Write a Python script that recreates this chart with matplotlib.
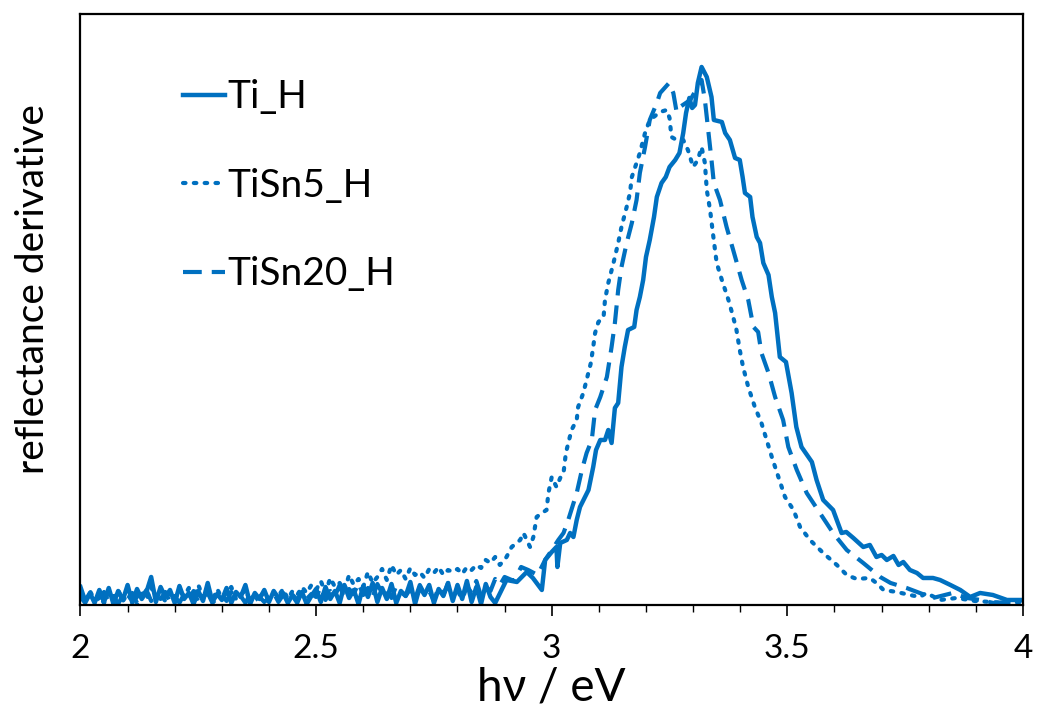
import numpy as np
import matplotlib
matplotlib.use("Agg")
import matplotlib.pyplot as plt
from matplotlib.ticker import MultipleLocator

plt.rcParams['font.family'] = ['Lato', 'DejaVu Sans']

# noisy baseline region, one value every 0.01 eV (heights in arbitrary units)
ti_noise_x = np.round(np.arange(2.00, 2.885, 0.01), 3)
ti_noise_y = [18, 4, 12, 2, 15, 3, 17, 1, 14, 5,
              20, 2, 16, 6, 13, 28, 3, 18, 8, 15,
              2, 19, 6, 12, 1, 14, 4, 22, 3, 11,
              5, 17, 2, 13, 8, 20, 1, 12, 6, 15,
              3, 14, 7, 12, 2, 10, 5, 13, 1, 9,
              16, 3, 18, 6, 14, 2, 20, 7, 15, 1,
              19, 8, 22, 3, 17, 6, 21, 2, 14, 9,
              23, 1, 18, 10, 20, 2, 16, 9, 22, 4,
              20, 6, 24, 3, 18, 1, 21, 8, 2]
# peak region read point by point
ti_peak_x = [2.904, 2.926, 2.947, 2.960, 2.979, 2.986, 3.000, 3.010, 3.012, 3.018,
             3.032, 3.039, 3.046, 3.053, 3.060, 3.078, 3.088, 3.094, 3.103, 3.113,
             3.120, 3.127, 3.134, 3.141, 3.148, 3.155, 3.162, 3.175, 3.180, 3.187,
             3.194, 3.200, 3.208, 3.217, 3.223, 3.233, 3.242, 3.250, 3.262, 3.271,
             3.279, 3.285, 3.292, 3.298, 3.304, 3.310, 3.318, 3.329, 3.339, 3.344,
             3.361, 3.368, 3.378, 3.389, 3.399, 3.405, 3.410, 3.421, 3.426, 3.435,
             3.442, 3.449, 3.460, 3.467, 3.474, 3.484, 3.497, 3.509, 3.519, 3.530,
             3.552, 3.562, 3.576, 3.597, 3.615, 3.625, 3.640, 3.661, 3.675, 3.689,
             3.700, 3.711, 3.725, 3.736, 3.746, 3.760, 3.775, 3.788, 3.809, 3.824,
             3.846, 3.867, 3.888, 3.909, 3.936, 3.966, 4.000]
ti_peak_y = [25, 23, 33, 27, 15, 45, 53, 58, 38, 62,
             65, 72, 68, 85, 98, 115, 138, 155, 165, 165,
             175, 162, 197, 202, 238, 258, 275, 278, 295, 308,
             325, 348, 365, 388, 408, 422, 428, 438, 445, 452,
             472, 492, 507, 497, 500, 522, 538, 528, 508, 485,
             483, 472, 465, 447, 445, 428, 412, 408, 388, 368,
             362, 342, 330, 308, 292, 248, 243, 212, 178, 158,
             143, 125, 105, 95, 72, 73, 67, 58, 60, 48,
             50, 45, 49, 40, 43, 35, 32, 27, 27, 25,
             20, 15, 8, 12, 10, 5, 5]

sn5_noise_x = np.round(np.arange(2.00, 2.895, 0.01), 3)
sn5_noise_y = [10, 3, 14, 5, 9, 2, 12, 6, 15, 4,
               11, 3, 8, 13, 5, 18, 7, 10, 4, 12,
               6, 14, 9, 17, 5, 20, 8, 13, 4, 16,
               7, 12, 18, 6, 10, 15, 4, 11, 8, 13,
               5, 12, 9, 16, 6, 14, 10, 18, 12, 20,
               15, 24, 12, 27, 18, 22, 14, 30, 20, 26,
               18, 33, 22, 28, 36, 25, 40, 30, 35, 26,
               37, 30, 33, 27, 36, 32, 38, 30, 35, 33,
               36, 31, 38, 35, 40, 37, 45, 42, 48, 40]
sn5_peak_x = [2.904, 2.915, 2.933, 2.940, 2.954, 2.961, 2.968, 2.979, 2.989, 2.993,
              3.000, 3.010, 3.018, 3.025, 3.030, 3.042, 3.053, 3.056, 3.067, 3.074,
              3.083, 3.088, 3.092, 3.099, 3.110, 3.113, 3.120, 3.131, 3.141, 3.148,
              3.159, 3.166, 3.170, 3.177, 3.187, 3.198, 3.208, 3.230, 3.244, 3.250,
              3.254, 3.265, 3.279, 3.289, 3.300, 3.310, 3.318, 3.325, 3.329, 3.336,
              3.343, 3.350, 3.361, 3.375, 3.385, 3.392, 3.399, 3.406, 3.417, 3.431,
              3.445, 3.456, 3.467, 3.481, 3.495, 3.513, 3.527, 3.548, 3.576, 3.605,
              3.626, 3.647, 3.675, 3.689, 3.704, 3.732, 3.760, 3.781, 3.795, 3.824,
              3.859, 3.898, 3.930, 3.965, 4.000]
sn5_peak_y = [48, 58, 65, 72, 58, 68, 88, 92, 95, 112,
              128, 118, 127, 132, 152, 175, 185, 198, 212, 225,
              242, 258, 272, 283, 288, 305, 322, 342, 362, 378,
              398, 412, 428, 438, 452, 472, 485, 493, 495, 487,
              468, 465, 465, 455, 438, 445, 458, 442, 415, 395,
              368, 342, 325, 305, 288, 275, 255, 238, 218, 198,
              182, 165, 148, 128, 108, 95, 78, 65, 52, 40,
              30, 26, 27, 22, 15, 13, 10, 8, 12, 5,
              7, 4, 3, 2, 3]

sn20_noise_x = np.round(np.arange(2.00, 2.895, 0.01), 3)
sn20_noise_y = [8, 2, 11, 4, 7, 13, 3, 9, 1, 10,
                5, 12, 2, 8, 15, 4, 10, 6, 13, 3,
                9, 2, 11, 5, 14, 3, 8, 12, 2, 7,
                10, 4, 13, 6, 9, 2, 11, 5, 8, 3,
                7, 12, 3, 10, 5, 9, 2, 13, 6, 11,
                8, 18, 5, 14, 9, 20, 6, 16, 11, 22,
                10, 17, 8, 21, 12, 15, 7, 19, 13, 9,
                16, 6, 20, 11, 14, 4, 18, 10, 22, 8,
                15, 5, 19, 12, 24, 9, 18, 14, 26, 20]
sn20_peak_x = [2.900, 2.920, 2.935, 2.950, 2.970, 2.986, 2.996, 3.014, 3.025, 3.035,
               3.053, 3.064, 3.074, 3.085, 3.092, 3.103, 3.117, 3.127, 3.134, 3.141,
               3.148, 3.159, 3.170, 3.180, 3.187, 3.198, 3.208, 3.223, 3.230, 3.249,
               3.258, 3.265, 3.272, 3.294, 3.318, 3.325, 3.332, 3.339, 3.344, 3.357,
               3.371, 3.385, 3.403, 3.417, 3.428, 3.438, 3.445, 3.460, 3.474, 3.491,
               3.502, 3.520, 3.541, 3.569, 3.597, 3.626, 3.661, 3.697, 3.719, 3.753,
               3.781, 3.809, 3.834, 3.851, 3.881, 3.910, 3.937, 3.966, 4.000]
sn20_peak_y = [28, 24, 38, 35, 30, 45, 52, 65, 72, 85,
               112, 135, 152, 165, 195, 208, 228, 258, 282, 315,
               338, 362, 382, 405, 432, 458, 485, 502, 512, 522,
               512, 493, 498, 505, 525, 505, 475, 445, 422, 405,
               378, 355, 325, 305, 278, 273, 252, 232, 208, 185,
               158, 135, 112, 92, 72, 55, 42, 28, 22, 17,
               12, 7, 10, 12, 7, 5, 2, 3, 5]

labels = ['Ti_H', 'TiSn5_H', 'TiSn20_H']
blue = '#0070C0'

fig = plt.figure(figsize=(10.37, 7.13), dpi=100)
ax = fig.add_axes([0.0776, 0.1515, 0.9089, 0.8289])

ax.plot(np.concatenate([ti_noise_x, ti_peak_x]), ti_noise_y + ti_peak_y,
        color=blue, lw=3.2, label=labels[0], solid_joinstyle='round')
ax.plot(np.concatenate([sn5_noise_x, sn5_peak_x]), sn5_noise_y + sn5_peak_y,
        color=blue, lw=3.0, ls=(0, (0.6, 2.0)), dash_capstyle='round', label=labels[1])
ax.plot(np.concatenate([sn20_noise_x, sn20_peak_x]), sn20_noise_y + sn20_peak_y,
        color=blue, lw=3.0, ls=(0, (4.5, 2.4)), label=labels[2])

ax.set_xlim(2, 4)
ax.set_ylim(0, 591)
ax.xaxis.set_minor_locator(MultipleLocator(0.1))
ax.set_xticks([2, 2.5, 3, 3.5, 4])
ax.set_xticklabels(['2', '2.5', '3', '3.5', '4'])
ax.tick_params(axis='x', which='major', length=8, width=1.2, direction='out', labelsize=24, pad=13)
ax.tick_params(axis='x', which='minor', length=5, width=1.0, direction='out')
ax.set_yticks([])
for s in ax.spines.values():
    s.set_linewidth(1.6)
    s.set_color('black')

ax.set_xlabel('hν / eV', fontsize=33, labelpad=2)
ax.set_ylabel('reflectance derivative', fontsize=28)
ax.yaxis.set_label_coords(-0.031, 0.535)

ax.legend(loc='upper left', bbox_to_anchor=(0.092, 0.916), frameon=False, fontsize=28,
          handlelength=1.08, handletextpad=0.06, labelspacing=1.35, borderaxespad=0)

fig.savefig('out.png', dpi=100)
